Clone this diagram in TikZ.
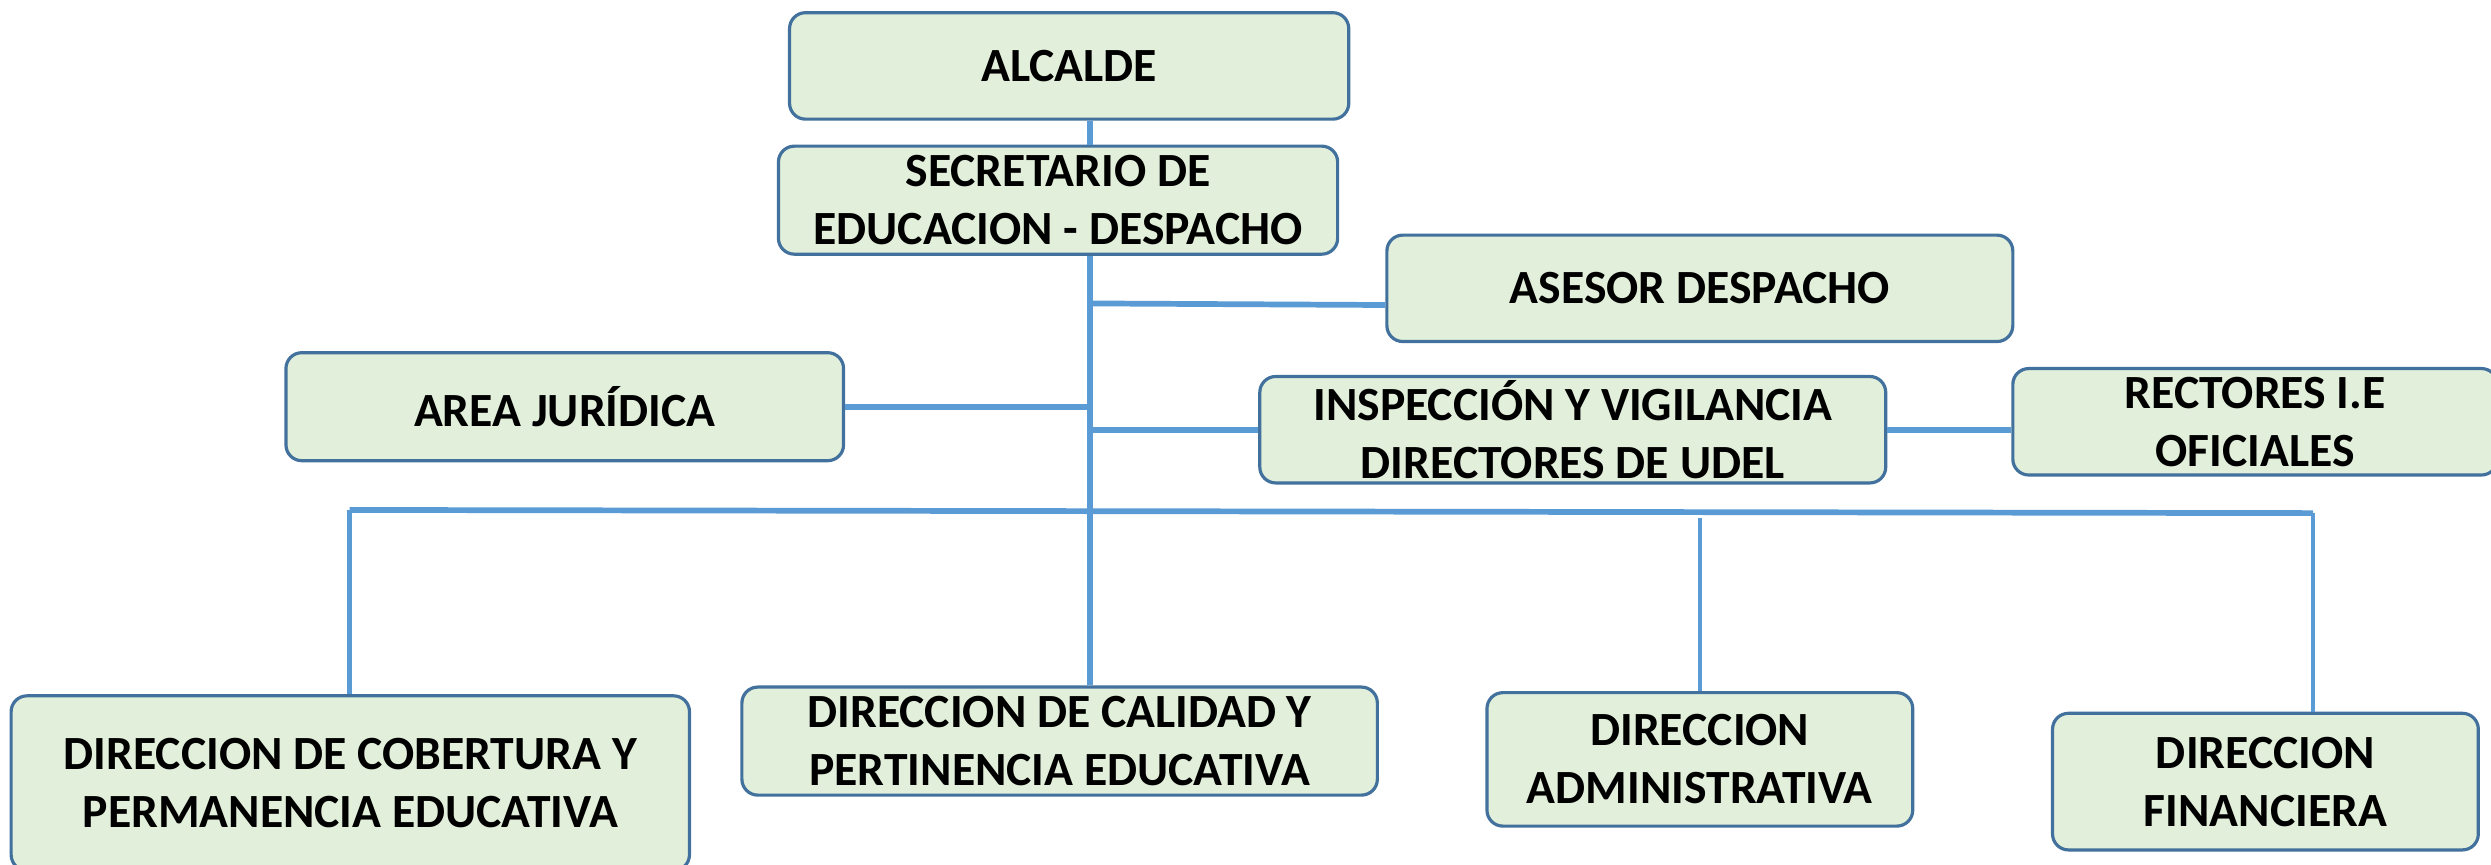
\documentclass[tikz,border=0pt]{standalone}
\usepackage{fontspec}
\setmainfont{Carlito}
\definecolor{boxfill}{HTML}{E2EFDA}
\definecolor{boxline}{HTML}{41719C}
\definecolor{conn}{HTML}{5B9BD5}
\begin{document}
\begin{tikzpicture}[x=0.5pt,y=-0.5pt,
  orgbox/.style={draw=boxline,line width=1pt,fill=boxfill,rounded corners=5pt,
    align=center,inner sep=0pt,font=\fontsize{15pt}{18.3pt}\selectfont\bfseries},
  link/.style={draw=conn,line width=1.8pt},
  thinlink/.style={draw=conn,line width=1.3pt}]
\path[use as bounding box,clip] (0,0) rectangle (1568,544);
\fill[white] (0,0) rectangle (1568,544);
% boxes
\node[orgbox,minimum width=176pt,minimum height=33.5pt] (alc) at (673,41.5) {ALCALDE};
\node[orgbox,minimum width=176pt,minimum height=34pt] (sec) at (666,126) {SECRETARIO DE\\EDUCACION - DESPACHO};
\node[orgbox,minimum width=197pt,minimum height=33.5pt] (ase) at (1070,181.5) {ASESOR DESPACHO};
\node[orgbox,minimum width=175.5pt,minimum height=34pt] (are) at (355.5,256) {AREA JURÍDICA};
\node[orgbox,minimum width=197pt,minimum height=33.5pt] (ins) at (990,270.5) {INSPECCIÓN Y VIGILANCIA\\DIRECTORES DE UDEL};
\node[orgbox,minimum width=152.5pt,minimum height=33.5pt] (rec) at (1419.5,265.5) {RECTORES I.E\\OFICIALES};
\node[orgbox,minimum width=213.5pt,minimum height=55pt] (cob) at (220.5,493) {DIRECCION DE COBERTURA Y\\PERMANENCIA EDUCATIVA};
\node[orgbox,minimum width=200pt,minimum height=34pt] (cal) at (667,466.5) {DIRECCION DE CALIDAD Y\\PERTINENCIA EDUCATIVA};
\node[orgbox,minimum width=134pt,minimum height=42pt] (adm) at (1070,478) {DIRECCION\\ADMINISTRATIVA};
\node[orgbox,minimum width=134pt,minimum height=43pt] (fin) at (1426,492) {DIRECCION\\FINANCIERA};
% junction points
\coordinate (t) at (686,0);
\coordinate (jA) at (686,191);
\coordinate (bL) at (220,321);
\coordinate (bR) at (1456,323);
\coordinate (jM) at (1070,326);
% connectors
\draw[link] (alc.south -| t) -- (sec.north -| t);
\draw[link] (sec.south -| t) -- (cal.north -| t);
\draw[link] (jA) -- ([yshift=-5.25pt]ase.west);
\draw[link] (are.east) -- (are.east -| t);
\draw[link] (ins.west) -- (ins.west -| t);
\draw[link] (ins.east) -- (rec.west |- ins.east);
\draw[link] (bL) -- (bR);
\draw[thinlink] (bL) -- (cob.north -| bL);
\draw[thinlink] (jM) -- (adm.north);
\draw[thinlink] (bR) -- (fin.north -| bR);
\end{tikzpicture}
\end{document}
